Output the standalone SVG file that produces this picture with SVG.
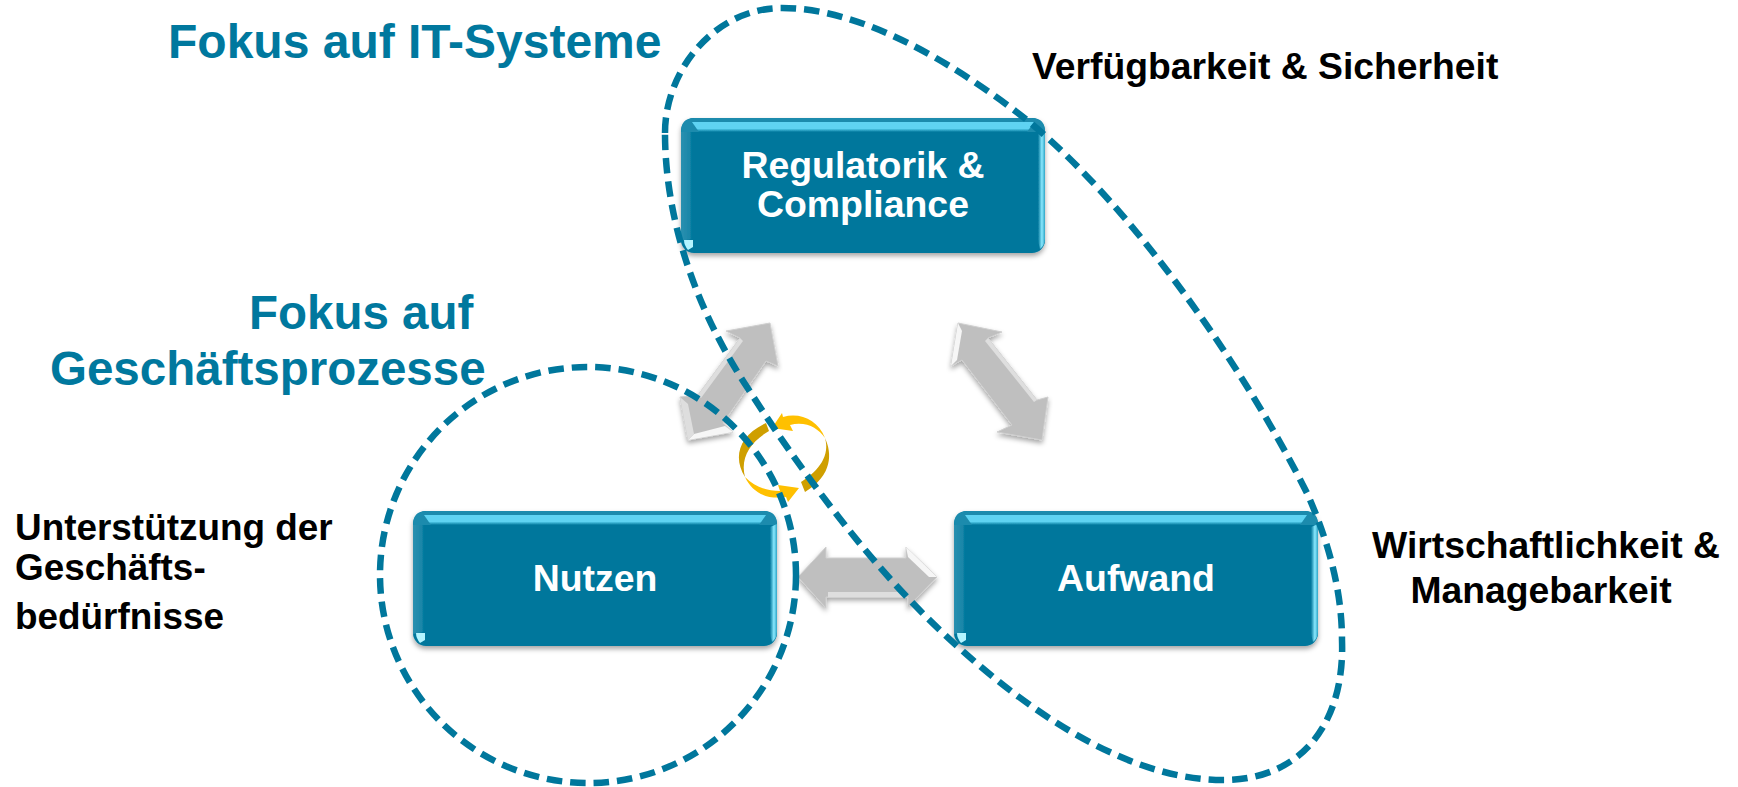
<svg xmlns="http://www.w3.org/2000/svg" width="1738" height="787" viewBox="0 0 1738 787">
<defs>
<linearGradient id="top" x1="0" y1="0" x2="0" y2="1"><stop offset="0" stop-color="#5ed3f2"/><stop offset=".65" stop-color="#5ed3f2"/><stop offset="1" stop-color="#00779c"/></linearGradient>
<linearGradient id="rgt" x1="0" y1="0" x2="1" y2="0"><stop offset="0" stop-color="#00779c"/><stop offset=".55" stop-color="#8ae9ff"/><stop offset="1" stop-color="#2ea5c6"/></linearGradient>
<linearGradient id="lft" x1="0" y1="0" x2="1" y2="0"><stop offset="0" stop-color="#2a90b0"/><stop offset=".8" stop-color="#1a86a8"/><stop offset="1" stop-color="#00779c"/></linearGradient>
<filter id="sh" x="-5%" y="-10%" width="110%" height="125%"><feDropShadow dx="0" dy="3" stdDeviation="2.5" flood-color="#000" flood-opacity=".35"/></filter>
<symbol id="box" width="366" height="137" viewBox="0 0 366 137">
<rect x="1" y="1" width="364" height="135" rx="13" fill="#00779c"/>
<path d="M1,15 Q1,1 14,1 H352 Q365,1 365,15 H1 Z" fill="#1a8bad"/>
<path d="M1,15 H12 V122 L1,124 Z" fill="url(#lft)"/>
<path d="M12,5 H354 L347,15 H19 Z" fill="url(#top)"/>
<path d="M358,17 L365,14 V122 Q365,128 360,132 L358,124 Z" fill="url(#rgt)"/>
<path d="M4,123 H13 V130 L8,133 Q4,128 4,123 Z" fill="#b4f4ff"/>
</symbol>
</defs>
<style>
text{font-family:"Liberation Sans",Arial,sans-serif;font-weight:700}
.t{font-size:48px;fill:#00789e}
.u{font-size:47.5px;fill:#00789e}
.k{font-size:37.3px;fill:#000}
.l{font-size:36.9px;fill:#000}
.w{font-size:37.4px;fill:#fff;text-anchor:middle}
.d{fill:none;stroke:#00779c;stroke-width:6.5;stroke-dasharray:15.5 8}
.a{fill:#bfbfbf;stroke:#cfcfcf;stroke-width:1;filter:url(#sh)}
.h{fill:#f6f6f6}
.s{fill:#dedede}
.g1{fill:#ffc000}
.g2{fill:#cf9f00}
</style>
<g id="node-regulatorik"><use href="#box" x="680" y="117" filter="url(#sh)"/><text class="w" x="863" y="178">Regulatorik &amp;</text><text class="w" x="863" y="217">Compliance</text></g>
<g id="node-nutzen"><use href="#box" x="412" y="510" filter="url(#sh)"/><text class="w" x="595" y="591">Nutzen</text></g>
<g id="node-aufwand"><use href="#box" x="953" y="510" filter="url(#sh)"/><text class="w" x="1136" y="591">Aufwand</text></g>
<g id="connectors">
<polygon class="a" points="770,323 778,366 766,361 723,423 733,432 688,440 680,397 698,395 740,338 726,331"/>
<polygon class="h" points="688,440 733,432 725,426 694,434"/>
<polygon class="s" points="688,440 680,397 688,404 694,434"/>
<polygon class="s" points="698,395 740,338 743,341 701,398"/>
<polygon class="a" points="958,323 1002,332 988,338 1037,400 1048,397 1042,440 997,432 1012,425 962,360 951,366"/>
<polygon class="h" points="958,323 951,366 957,360 962,331"/>
<polygon class="s" points="988,338 1037,400 1034,402 985,341"/>
<polygon class="a" points="798,577 826,547 826,558 906,558 906,547 937,577 908,607 908,597 826,597 826,608"/>
<polygon class="h" points="906,547 937,577 929,577 908,557"/>
<polygon class="s" points="828,597 906,597 906,592 828,592"/>
<path class="g1" d="M772,428 L782,413 L783,417 C800,412 818,420 825,438 C818,428 806,421 790,425 L793,431 Z"/>
<path class="g2" d="M825,438 C832,453 833,475 805,492 L801,482 C820,470 830,455 825,438 Z"/>
<path class="g1" d="M799,488 L788,502 L786,497 C766,500 752,492 745,477 C755,487 767,491 780,491 L778,485 Z"/>
<path class="g2" d="M745,477 C733,458 738,436 766,423 L769,431 C750,442 740,458 745,477 Z"/>
</g>
<g id="group-ellipses">
<path id="it-systeme" class="d" d="M665,133 C665,70 715,8 782,8 C860,8 950,60 1027,120 C1130,205 1240,360 1307,493 C1328,540 1342,590 1342,640 C1345,725 1300,780 1223,780 C1130,780 1030,715 943,633 C870,565 800,470 747,387 C690,300 665,210 665,133 Z"/>
<circle id="geschaeft" class="d" cx="588" cy="575" r="208"/>
</g>
<g id="labels">
<text class="t" x="168" y="58">Fokus auf IT-Systeme</text>
<text class="u" x="249" y="329">Fokus auf</text>
<text class="u" x="50" y="385">Geschäftsprozesse</text>
<text class="k" x="1032" y="79">Verfügbarkeit &amp; Sicherheit</text>
<text class="l" x="15" y="540">Unterstützung der</text>
<text class="l" x="15" y="580">Geschäfts-</text>
<text class="l" x="15" y="629">bedürfnisse</text>
<text class="k" x="1546" y="558" text-anchor="middle">Wirtschaftlichkeit &amp;</text>
<text class="k" x="1541" y="603" text-anchor="middle">Managebarkeit</text>
</g>
</svg>
